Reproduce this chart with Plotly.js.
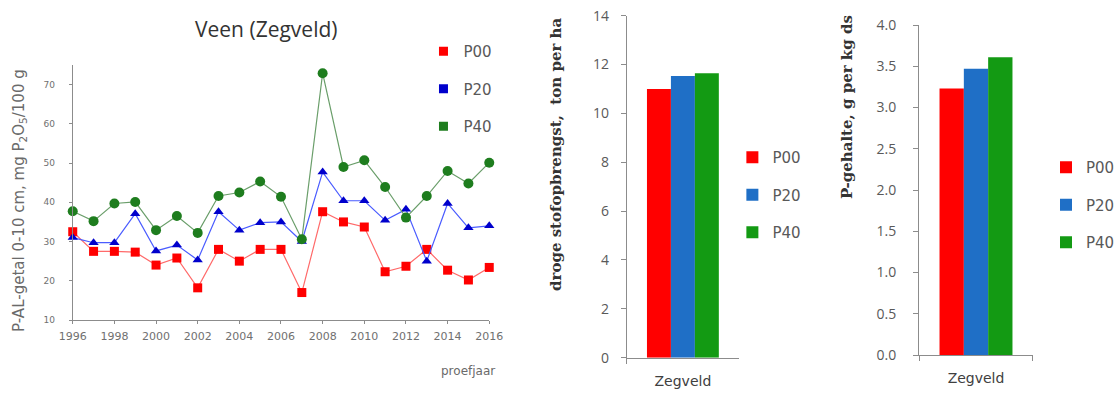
<!DOCTYPE html>
<html>
<head>
<meta charset="utf-8">
<script src="https://cdn.plot.ly/plotly-3.0.1.min.js"></script>
<style>html,body{margin:0;padding:0;background:#fff;}#chart{width:1120px;height:395px;}</style>
</head>
<body>
<div id="chart"></div>
<script>
// ---- data ----
const years = [1996,1997,1998,1999,2000,2001,2002,2003,2004,2005,2006,2007,2008,2009,2010,2011,2012,2013,2014,2015,2016];
const p00 = [32.5,27.5,27.5,27.3,24.0,25.8,18.2,28.0,25.0,28.0,28.0,17.0,37.6,35.0,33.7,22.3,23.7,28.0,22.7,20.2,23.4];
const p20 = [31.0,29.7,29.7,37.1,27.6,29.1,25.3,37.6,32.9,34.8,35.0,30.0,47.7,40.4,40.4,35.4,38.2,25.0,39.7,33.5,34.0];
const p40 = [37.7,35.2,39.7,40.1,32.9,36.5,32.2,41.6,42.5,45.3,41.4,30.6,72.9,49.0,50.7,43.9,36.1,41.6,48.0,44.8,50.1];
const seriesNames = ['P00','P20','P40'];
const siteNames = ['Zegveld'];
const yieldVals = [11.0, 11.53, 11.64];   // droge stofopbrengst, ton per ha
const pVals = [3.23, 3.47, 3.61];          // P-gehalte, g per kg ds

const lineTitle = 'Veen (Zegveld)';
const lineYTitle = 'P-AL-getal 0-10 cm, mg P<sub>2</sub>O<sub>5</sub>/100 g';
const lineXTitle = 'proefjaar';
const yieldTitle = 'droge stofopbrengst,  ton per ha';
const pTitle = 'P-gehalte, g per kg ds';

// ---- styles ----
const markerCols = ['#ff0000','#0000cc','#1e7d1e'];
const lineCols = ['#ff6a6a','#4a5cff','#6a9e6a'];
const symbols = ['square','triangle-up','circle'];
const sizes = [9,9,10];
const barCols = ['#ff0000','#1f6fc6','#139a13'];
const lineSeries = [p00,p20,p40];

const traces = [];
lineSeries.forEach((vals,i)=>{
  traces.push({
    type:'scatter', mode:'lines+markers', x:years, y:vals, name:seriesNames[i],
    xaxis:'x', yaxis:'y', showlegend:false, cliponaxis:false,
    line:{color:lineCols[i], width:1.2},
    marker:{symbol:symbols[i], size:sizes[i], color:markerCols[i], line:{width:0}}
  });
});
// legend entries for the line chart (square symbols, no drawn mark)
seriesNames.forEach((n,i)=>{
  traces.push({
    type:'scatter', mode:'markers', x:[null], y:[null], name:n,
    xaxis:'x', yaxis:'y', legend:'legend', legendgroup:'l'+i, hoverinfo:'skip',
    marker:{symbol:'square', size:9, color:markerCols[i]}
  });
});
seriesNames.forEach((n,i)=>{
  traces.push({
    type:'bar', x:siteNames, y:[yieldVals[i]], name:n, xaxis:'x2', yaxis:'y2',
    legend:'legend2', legendgroup:'m'+i, marker:{color:barCols[i], line:{width:0}}
  });
});
seriesNames.forEach((n,i)=>{
  traces.push({
    type:'bar', x:siteNames, y:[pVals[i]], name:n, xaxis:'x3', yaxis:'y3',
    legend:'legend3', legendgroup:'r'+i, marker:{color:barCols[i], line:{width:0}}
  });
});

const W = 1120, H = 395;
const px = v => v / W;
const py = v => 1 - v / H;
const axisCol = '#8c8c8c';
const tickCol = '#707070';
const sans = '"DejaVu Sans", sans-serif';
const barFont = '"Open Sans", sans-serif';

const legendCommon = {
  bgcolor:'rgba(0,0,0,0)', borderwidth:0, traceorder:'grouped',
  font:{family:sans, size:15, color:'#595959'},
  xanchor:'left', yanchor:'top', itemwidth:30, tracegroupgap:15, itemclick:false
};

const layout = {
  width:W, height:H, margin:{l:0,r:0,t:0,b:0},
  paper_bgcolor:'#fff', plot_bgcolor:'rgba(0,0,0,0)',
  barmode:'group', bargap:0.36, bargroupgap:0,
  showlegend:true,
  font:{family:sans, color:'#595959'},
  xaxis:{domain:[px(73),px(491)], anchor:'y', range:[1996,2016], dtick:2, tick0:1996,
    showline:true, linecolor:axisCol, linewidth:1, ticks:'outside', ticklen:3, tickcolor:axisCol,
    showgrid:false, zeroline:false, tickfont:{family:sans, size:11, color:tickCol}, ticklabelstandoff:3},
  yaxis:{domain:[py(320),py(65)], anchor:'x', range:[10,75], dtick:10, tick0:10,
    showline:true, linecolor:axisCol, linewidth:1, ticks:'outside', ticklen:3, tickcolor:axisCol,
    showgrid:false, zeroline:false, tickfont:{family:sans, size:9, color:tickCol}, ticklabelstandoff:12},
  xaxis2:{domain:[px(629),px(741.7)], anchor:'y2', type:'category', range:[-0.5,0.5],
    tickson:'boundaries', showline:true, linecolor:axisCol, ticks:'outside', ticklen:5, tickcolor:axisCol,
    showgrid:false, zeroline:false, tickfont:{family:sans, size:14, color:'#404040'}, ticklabelstandoff:10},
  yaxis2:{domain:[py(357.7),py(15.7)], anchor:'x2', range:[0,14], dtick:2,
    showline:true, linecolor:axisCol, ticks:'outside', ticklen:5, tickcolor:axisCol,
    showgrid:false, zeroline:false, tickfont:{family:barFont, size:14, color:'#595959'}, ticklabelstandoff:9},
  xaxis3:{domain:[px(922.3),px(1036.7)], anchor:'y3', type:'category', range:[-0.5,0.5],
    tickson:'boundaries', showline:true, linecolor:axisCol, ticks:'outside', ticklen:5, tickcolor:axisCol,
    showgrid:false, zeroline:false, tickfont:{family:sans, size:14, color:'#404040'}, ticklabelstandoff:10},
  yaxis3:{domain:[py(355),py(25)], anchor:'x3', range:[0,4], dtick:0.5, tickformat:'.1f',
    showline:true, linecolor:axisCol, ticks:'outside', ticklen:5, tickcolor:axisCol,
    showgrid:false, zeroline:false, tickfont:{family:barFont, size:14, color:'#595959'}, ticklabelstandoff:14},
  legend:Object.assign({}, legendCommon, {x:px(425), y:py(35)}),
  legend2:Object.assign({}, legendCommon, {x:px(735), y:py(141)}),
  legend3:Object.assign({}, legendCommon, {x:px(1050), y:py(151)}),
  annotations:[
    {text:lineTitle, xref:'paper', yref:'paper', x:px(267), y:py(29), showarrow:false,
      xanchor:'center', yanchor:'middle', font:{family:'"Open Sans", sans-serif', size:21, color:'#333'}},
    {text:lineYTitle, xref:'paper', yref:'paper', x:px(19), y:py(200), showarrow:false, textangle:-90,
      xanchor:'center', yanchor:'middle', font:{family:sans, size:15, color:'#6a6a6a'}},
    {text:lineXTitle, xref:'paper', yref:'paper', x:px(470), y:py(371), showarrow:false,
      xanchor:'center', yanchor:'middle', font:{family:sans, size:12, color:'#6a6a6a'}},
    {text:yieldTitle, xref:'paper', yref:'paper', x:px(558), y:py(155), showarrow:false, textangle:-90,
      xanchor:'center', yanchor:'middle', font:{family:'"DejaVu Serif", serif', size:15, color:'#333', weight:'bold'}},
    {text:pTitle, xref:'paper', yref:'paper', x:px(850), y:py(107), showarrow:false, textangle:-90,
      xanchor:'center', yanchor:'middle', font:{family:'"DejaVu Serif", serif', size:15, color:'#333', weight:'bold'}}
  ]
};

Plotly.newPlot('chart', traces, layout, {displayModeBar:false, staticPlot:true});
</script>
</body>
</html>
